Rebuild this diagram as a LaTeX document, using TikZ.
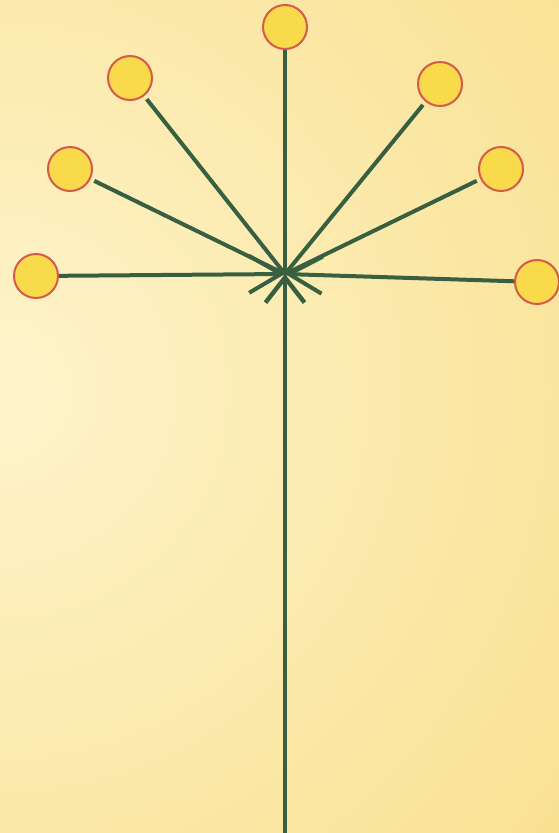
\documentclass[tikz,border=0pt]{standalone}
\usepackage{tikz}
\usetikzlibrary{arrows.meta,positioning}
\definecolor{bgpale}{HTML}{FEF4CC}
\definecolor{bgmid}{HTML}{FAE49A}
\definecolor{bgdeep}{HTML}{F6CC6E}
\definecolor{stemgreen}{HTML}{385F41}
\definecolor{budyellow}{HTML}{F8DA4B}
\definecolor{budred}{HTML}{D65A4C}

\pgfdeclareradialshading{bgglow}{\pgfpoint{0bp}{0bp}}{color(0bp)=(bgpale); color(16bp)=(bgmid); color(33bp)=(bgdeep); color(50bp)=(bgdeep)}

\tikzset{
  bud/.style={circle,minimum size=44pt,inner sep=0pt,draw=budred,line width=2pt,fill=budyellow},
  branch/.style={stemgreen,line width=4pt},
  gapped/.style={branch,shorten <=4pt}
}

\begin{document}
\begin{tikzpicture}[x=1pt,y=-1pt]
  % background
  \useasboundingbox (0,0) rectangle (559,833);
  \begin{scope}
    \clip (0,0) rectangle (559,833);
    \shade[shading=bgglow] (0,390) circle (950);
  \end{scope}
  % hub and buds
  \coordinate (hub) at (285,274);
  \coordinate (root) at (285,833);
  \node[bud] (top) at (285,27) {};
  \node[bud] (upleft) at (130,78) {};
  \node[bud] (midleft) at (70,169) {};
  \node[bud] (left) at (36,276) {};
  \node[bud] (upright) at (440,84) {};
  \node[bud] (midright) at (501,169) {};
  \node[bud] (right) at (537,282) {};
  % stem and branches
  \draw[branch,line width=4.4pt,-{Straight Barb[length=25pt,width=39pt]}] (root) -- (hub);
  \draw[branch] (top) -- (hub);
  \draw[gapped] (upleft) -- (hub);
  \draw[gapped] (midleft) -- (hub);
  \draw[gapped] (upright) -- (hub);
  \draw[gapped] (midright) -- (hub);
  \draw[branch,-{Straight Barb[length=32pt,width=37pt]}] (left) -- (hub);
  \draw[branch,-{Straight Barb[length=33pt,width=37pt]}] (right) -- (hub);
\end{tikzpicture}
\end{document}
